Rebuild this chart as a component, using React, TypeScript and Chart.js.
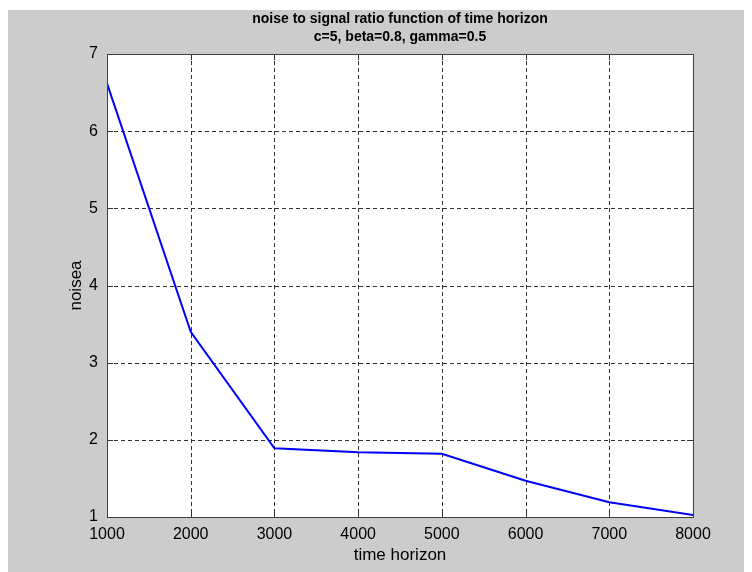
import React, { useEffect, useRef } from "react";
import { Chart, registerables } from "chart.js";

Chart.register(...registerables);

const horizons = [1000, 2000, 3000, 4000, 5000, 6000, 7000, 8000];
const noisea = [6.62, 3.4, 1.89, 1.84, 1.82, 1.47, 1.19, 1.025];
const titleLines = ["noise to signal ratio function of time horizon", "c=5, beta=0.8, gamma=0.5"];
const xLabel = "time horizon";
const yLabel = "noisea";

const FONT = "'Liberation Sans', Arial, sans-serif";

const matlabPlugin = {
  id: "matlabFrame",
  beforeDraw(chart: any) {
    const { ctx, chartArea } = chart;
    const { left, top, right, bottom } = chartArea;
    ctx.save();
    ctx.fillStyle = "#ffffff";
    ctx.fillRect(left, top, right - left, bottom - top);
    ctx.restore();
  },
  beforeDatasetsDraw(chart: any) {
    const { ctx, chartArea, scales } = chart;
    const { left, top, right, bottom } = chartArea;
    ctx.save();
    ctx.strokeStyle = "#333333";
    ctx.lineWidth = 1;
    ctx.setLineDash([4, 3]);
    scales.x.ticks.forEach((t: any) => {
      const px = Math.round(scales.x.getPixelForValue(t.value)) + 0.5;
      if (px <= left + 1 || px >= right - 1) return;
      ctx.beginPath();
      ctx.moveTo(px, top);
      ctx.lineTo(px, bottom);
      ctx.stroke();
    });
    scales.y.ticks.forEach((t: any) => {
      const py = Math.round(scales.y.getPixelForValue(t.value)) + 0.5;
      if (py <= top + 1 || py >= bottom - 1) return;
      ctx.beginPath();
      ctx.moveTo(left, py);
      ctx.lineTo(right, py);
      ctx.stroke();
    });
    ctx.restore();
  },
  afterDatasetsDraw(chart: any) {
    const { ctx, chartArea, scales } = chart;
    const { left, top, right, bottom } = chartArea;
    ctx.save();
    ctx.setLineDash([]);
    ctx.strokeStyle = "#333333";
    ctx.lineWidth = 1;
    const tl = 6;
    scales.x.ticks.forEach((t: any) => {
      const px = Math.round(scales.x.getPixelForValue(t.value)) + 0.5;
      ctx.beginPath();
      ctx.moveTo(px, bottom);
      ctx.lineTo(px, bottom - tl);
      ctx.moveTo(px, top);
      ctx.lineTo(px, top + tl);
      ctx.stroke();
    });
    scales.y.ticks.forEach((t: any) => {
      const py = Math.round(scales.y.getPixelForValue(t.value)) + 0.5;
      ctx.beginPath();
      ctx.moveTo(left, py);
      ctx.lineTo(left + tl, py);
      ctx.moveTo(right, py);
      ctx.lineTo(right - tl, py);
      ctx.stroke();
    });
    ctx.strokeStyle = "#404040";
    ctx.strokeRect(Math.round(left) + 0.5, Math.round(top) + 0.5, Math.round(right - left), Math.round(bottom - top));

    // title
    const cx = (left + right) / 2;
    ctx.fillStyle = "#000000";
    ctx.textAlign = "center";
    ctx.textBaseline = "middle";
    ctx.font = `bold 14px ${FONT}`;
    ctx.fillText(titleLines[0], cx, 9);
    ctx.fillText(titleLines[1], cx, 27);

    // axis titles
    ctx.font = `17px ${FONT}`;
    ctx.fillText(xLabel, cx, 545);
    ctx.save();
    ctx.translate(68, (top + bottom) / 2);
    ctx.rotate(-Math.PI / 2);
    ctx.fillText(yLabel, 0, 0);
    ctx.restore();
    ctx.restore();
  },
};

export default function App() {
  const ref = useRef<HTMLCanvasElement | null>(null);
  useEffect(() => {
    if (!ref.current) return;
    const chart = new Chart(ref.current, {
      type: "line",
      data: {
        datasets: [
          {
            data: horizons.map((h, i) => ({ x: h, y: noisea[i] })),
            borderColor: "#0000ff",
            borderWidth: 2,
            pointRadius: 0,
            tension: 0,
            fill: false,
          },
        ],
      },
      options: {
        animation: false,
        responsive: false,
        maintainAspectRatio: false,
        layout: { padding: { top: 44, right: 59, bottom: 0, left: 0 } },
        plugins: { legend: { display: false }, title: { display: false }, tooltip: { enabled: false } },
        scales: {
          x: {
            type: "linear",
            min: 1000,
            max: 8000,
            ticks: {
              stepSize: 1000,
              padding: 8,
              color: "#000000",
              font: { family: FONT, size: 16 },
              maxRotation: 0,
              callback: (v: any) => String(v),
            },
            grid: { display: false, drawTicks: false },
            border: { display: false },
            afterFit: (s: any) => {
              s.height = 55;
            },
          },
          y: {
            type: "linear",
            min: 1,
            max: 7,
            ticks: {
              stepSize: 1,
              padding: 9,
              color: "#000000",
              font: { family: FONT, size: 16 },
              callback: (v: any) => String(v),
            },
            grid: { display: false, drawTicks: false },
            border: { display: false },
            afterFit: (s: any) => {
              s.width = 99;
            },
          },
        },
      },
      plugins: [matlabPlugin],
    });
    return () => chart.destroy();
  }, []);
  return (
    <div style={{ marginTop: 2, width: 744, height: 562, background: "#cccccc" }}>
      <canvas ref={ref} width={744} height={562} style={{ display: "block" }} />
    </div>
  );
}
